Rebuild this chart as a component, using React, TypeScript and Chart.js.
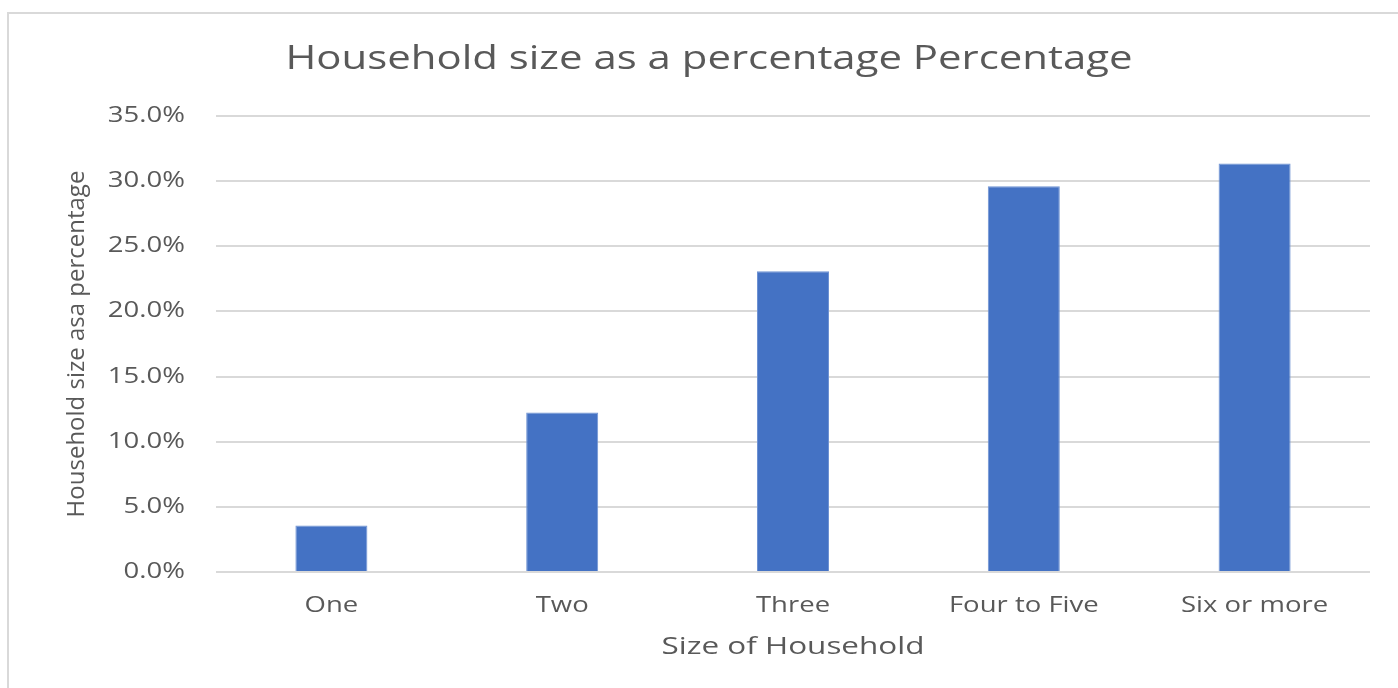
import React, { useEffect, useRef } from "react";
import { Chart, registerables } from "chart.js";

Chart.register(...registerables);

const categories = ["One", "Two", "Three", "Four to Five", "Six or more"];
const percentages = [3.56, 12.24, 23.08, 29.6, 31.36];
const yTickStep = 5;
const yMax = 35;
const chartTitle = "Household size as a percentage Percentage";
const xAxisTitle = "Size of Household";
const yAxisTitle = "Household size asa percentage";

const FONT = "'Open Sans', 'Noto Sans', sans-serif";
const TEXT = "#595959";
// the reference text is stretched horizontally
const TEXT_STRETCH = 1.31;

export default function App() {
  const ref = useRef<HTMLCanvasElement | null>(null);

  useEffect(() => {
    document.body.style.margin = "0";
    const canvas = ref.current;
    if (!canvas) return;
    const ctx = canvas.getContext("2d") as CanvasRenderingContext2D;
    const origFill = ctx.fillText.bind(ctx);
    (ctx as any).fillText = (text: string, x: number, y: number, maxWidth?: number) => {
      const m = ctx.getTransform();
      if (Math.abs(m.b) > 1e-6 || Math.abs(m.c) > 1e-6) {
        if (maxWidth === undefined) origFill(text, x, y);
        else origFill(text, x, y, maxWidth);
        return;
      }
      ctx.save();
      ctx.translate(x, y);
      ctx.scale(TEXT_STRETCH, 1);
      if (maxWidth === undefined) origFill(text, 0, 0);
      else origFill(text, 0, 0, maxWidth / TEXT_STRETCH);
      ctx.restore();
    };

    const chart = new Chart(ctx, {
      type: "bar",
      data: {
        labels: categories,
        datasets: [
          {
            data: percentages,
            backgroundColor: "#4472C4",
            borderColor: "#6f93d3",
            borderWidth: 1,
            barPercentage: 0.312,
            categoryPercentage: 1,
          },
        ],
      },
      options: {
        animation: false,
        responsive: false,
        devicePixelRatio: 1,
        layout: { padding: { left: 48, right: 28, top: 0, bottom: 0 } },
        plugins: {
          legend: { display: false },
          tooltip: { enabled: false },
          title: {
            display: true,
            text: chartTitle,
            color: TEXT,
            font: { family: FONT, size: 32, weight: "normal" },
            padding: { top: 41, bottom: 36.6 },
          },
        },
        scales: {
          x: {
            grid: { display: false, drawTicks: false },
            border: { display: false },
            ticks: {
              color: TEXT,
              font: { family: FONT, size: 21 },
              padding: 21,
            },
            title: {
              display: true,
              text: xAxisTitle,
              color: TEXT,
              font: { family: FONT, size: 24 },
              padding: { top: 0, bottom: 26 },
            },
            afterFit: (scale: any) => {
              scale.height = 116;
            },
          },
          y: {
            min: 0,
            max: yMax,
            grid: { color: "#d9d9d9", lineWidth: 2, drawTicks: false },
            border: { display: false },
            ticks: {
              stepSize: yTickStep,
              color: TEXT,
              font: { family: FONT, size: 21 },
              padding: 31,
              callback: (v: any) => Number(v).toFixed(1) + "%",
            },
            title: {
              display: true,
              text: yAxisTitle,
              color: TEXT,
              font: { family: FONT, size: 24 },
              padding: { top: 15, bottom: 0 },
            },
            afterFit: (scale: any) => {
              scale.width = 216 - 48;
            },
          },
        },
      },
    });
    return () => chart.destroy();
  }, []);

  return (
    <div style={{ position: "relative", width: 1398, height: 688, overflow: "hidden", background: "#fff" }}>
      <canvas ref={ref} width={1398} height={688} style={{ position: "absolute", left: 0, top: 0 }} />
      <div
        style={{
          position: "absolute",
          left: 7,
          top: 12,
          width: 1420,
          height: 720,
          border: "2px solid #d9d9d9",
          pointerEvents: "none",
        }}
      />
    </div>
  );
}
